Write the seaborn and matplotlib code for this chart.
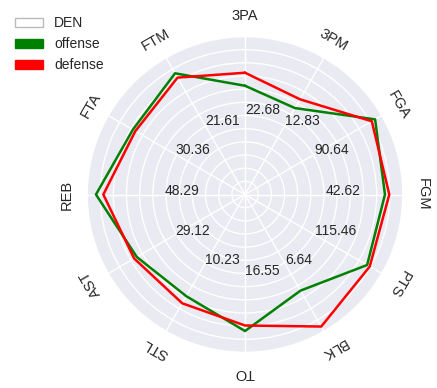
import numpy as np
import pandas as pd
import matplotlib
matplotlib.use("Agg")
import matplotlib.pyplot as plt
from matplotlib.patches import Patch
import seaborn as sns

categories = ["3PA", "3PM", "FGA", "FGM", "PTS", "BLK", "TO", "STL", "AST", "REB", "FTA", "FTM"]
offense = [0.826, 0.758, 1.141, 1.063, 1.071, 0.843, 1.037, 0.892, 0.949, 1.132, 0.984, 1.063]
defense = [0.925, 0.835, 1.112, 1.096, 1.094, 1.158, 0.995, 0.954, 0.972, 1.076, 0.962, 1.025]
mean_labels = ["22.68", "12.83", "90.64", "42.62", "115.46", "6.64", "16.55", "10.23", "29.12", "48.29", "30.36", "21.61"]
team = "DEN"

sns.set_theme(style="darkgrid")
plt.rcParams["font.family"] = ["Liberation Sans", "DejaVu Sans"]

n = len(categories)
angles = np.linspace(0, 2 * np.pi, n, endpoint=False)

rows = []
for side, vals in (("offense", offense), ("defense", defense)):
    for a, v in zip(list(angles) + [2 * np.pi], vals + vals[:1]):
        rows.append({"angle": a, "value": v, "side": side})
df = pd.DataFrame(rows)

fig = plt.figure(figsize=(4.37, 3.88), dpi=100)
ax = fig.add_axes([0.1991, 0.0915, 0.7231, 0.8144], projection="polar")
ax.set_theta_offset(np.pi / 2)
ax.set_theta_direction(-1)

sns.lineplot(data=df, x="angle", y="value", hue="side", hue_order=["offense", "defense"],
             palette={"offense": "green", "defense": "red"}, sort=False, estimator=None,
             linewidth=1.8, legend=False, ax=ax)

ax.set_ylim(0, 1.2)
ax.set_yticks(np.arange(0.1, 1.15, 0.1))
ax.set_yticklabels([])
ax.set_xticks(angles)
ax.set_xticklabels([])
ax.set_xlabel("")
ax.set_ylabel("")

# category labels, rotated along the spokes (not flipped)
for a, c in zip(angles, categories):
    ax.text(a, 1.352, c, fontsize=10.5, color="#262626", rotation=-np.degrees(a),
            rotation_mode="anchor", ha="center", va="center", clip_on=False)

for a, t in zip(angles, mean_labels):
    ax.text(a, 0.61, t, fontsize=10, color="#262626")

handles = [Patch(facecolor="white", edgecolor="#bbbbbb", label=team),
           Patch(facecolor="green", edgecolor="green", label="offense"),
           Patch(facecolor="red", edgecolor="red", label="defense")]
fig.legend(handles=handles, loc="upper left", bbox_to_anchor=(0.006, 0.99), frameon=False, fontsize=10)

fig.savefig("out.png", dpi=100)
